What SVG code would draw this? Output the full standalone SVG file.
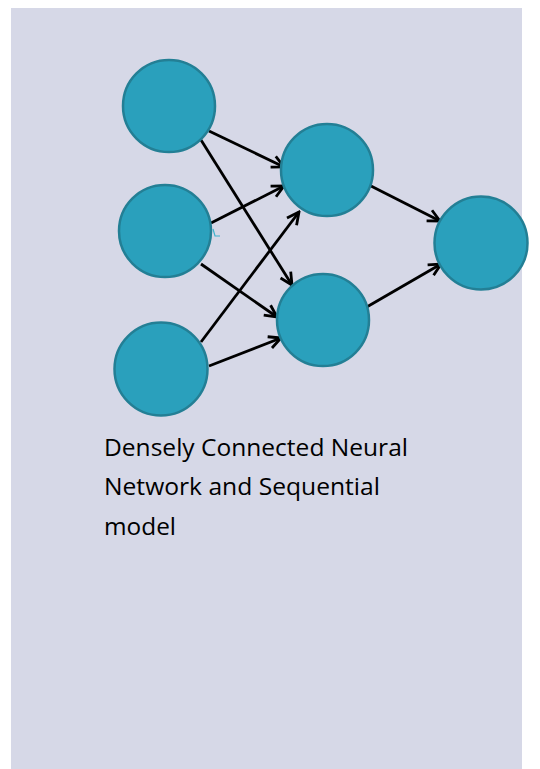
<svg xmlns="http://www.w3.org/2000/svg" width="540" height="769" viewBox="0 0 540 769">
  <style>
    .node { fill: #2aa0bc; stroke: #237f95; stroke-width: 2.5; }
    .edge { stroke: #000; stroke-width: 2.8; fill: none; marker-end: url(#arrow); }
    .caption { font-family: "Open Sans", "Liberation Sans", sans-serif; font-size: 24px; fill: #000; }
  </style>
  <defs>
    <marker id="arrow" markerUnits="userSpaceOnUse" markerWidth="18" markerHeight="18" viewBox="0 0 18 18" refX="16" refY="9" orient="auto">
      <path d="M4,3 L16,9 L4,15" fill="none" stroke="#000" stroke-width="2.8" stroke-linejoin="miter"/>
    </marker>
  </defs>

  <!-- page background -->
  <rect x="0" y="0" width="540" height="769" fill="#ffffff"/>
  <rect x="11" y="8" width="511" height="761" fill="#d6d8e7"/>

  <!-- connectors -->
  <g id="connectors">
    <line class="edge" x1="209" y1="131" x2="284" y2="167"/>
    <line class="edge" x1="201" y1="140" x2="292" y2="285"/>
    <line class="edge" x1="211" y1="223" x2="284" y2="186"/>
    <line class="edge" x1="201" y1="264" x2="277" y2="317"/>
    <line class="edge" x1="201" y1="342" x2="299" y2="212"/>
    <line class="edge" x1="209" y1="366" x2="281" y2="338"/>
    <line class="edge" x1="369" y1="185" x2="440" y2="221"/>
    <line class="edge" x1="365" y1="308" x2="441" y2="264"/>
  </g>

  <!-- input layer -->
  <g id="input-1"><circle class="node" cx="169" cy="106" r="46"/></g>
  <g id="input-2">
    <circle class="node" cx="165" cy="231" r="46"/>
    <path d="M213,229 L215,236 L220,236" fill="none" stroke="#3db2cd" stroke-width="1.2"/>
  </g>
  <g id="input-3"><circle class="node" cx="161" cy="369" r="46.5"/></g>

  <!-- hidden layer -->
  <g id="hidden-1"><circle class="node" cx="327" cy="170" r="46"/></g>
  <g id="hidden-2"><circle class="node" cx="323" cy="320" r="46"/></g>

  <!-- output layer -->
  <g id="output-1"><circle class="node" cx="481" cy="243" r="46.5"/></g>

  <!-- caption -->
  <g id="caption">
    <text class="caption" x="104" y="456" textLength="304" lengthAdjust="spacingAndGlyphs">Densely Connected Neural</text>
    <text class="caption" x="104" y="495" textLength="276" lengthAdjust="spacingAndGlyphs">Network and Sequential</text>
    <text class="caption" x="104" y="535" textLength="72" lengthAdjust="spacingAndGlyphs">model</text>
  </g>
</svg>
